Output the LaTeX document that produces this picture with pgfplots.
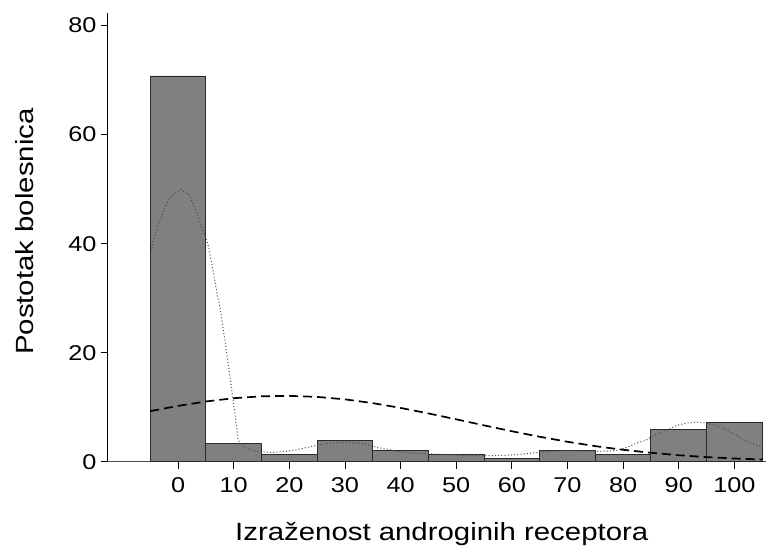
\documentclass[border=0pt]{standalone}
\usepackage{fontspec}
\setmainfont{Liberation Sans}[FakeStretch=1.18]
\usepackage{pgfplots}
\pgfplotsset{compat=1.18}
\definecolor{barfill}{HTML}{808080}
\definecolor{bardraw}{HTML}{2A2A2A}
\definecolor{dotcol}{HTML}{4A4A4A}
\begin{document}
\begin{tikzpicture}
\begin{axis}[
  scale only axis, width=658bp, height=449bp,
  xmin=-12.6, xmax=105.6, ymin=0, ymax=82.3,
  axis x line*=bottom, axis y line*=left,
  axis line style={-},
  x axis line style={black!70, line width=0.9bp},
  y axis line style={black, line width=0.9bp},
  tick align=outside, major tick length=7bp,
  tick style={black, line width=0.8bp},
  xtick={0,10,...,100}, ytick={0,20,...,80},
  minor tick num=0,
  /pgf/number format/assume math mode=true,
  tick label style={font=\fontsize{21.5}{23}\selectfont},
  xticklabel style={yshift=-5bp},
  yticklabel style={xshift=-1bp},
  label style={font=\fontsize{25}{29}\selectfont},
  xlabel={Izraženost androginih receptora},
  ylabel={Postotak bolesnica},
  xlabel style={at={(axis description cs:0.5076,-0.1759)}, anchor=base},
  ylabel style={at={(axis description cs:-0.1135,0.513)}, anchor=base, rotate=0},
]
\addplot[ybar interval, fill=barfill, draw=bardraw, line width=0.9bp] coordinates {
(-5,70.75) (5,3.37) (15,1.41) (25,3.98) (35,2.02) (45,1.28) (55,0.55) (65,2.02) (75,1.36) (85,5.94) (95,7.22) (105,7.22)
};
\addplot[dotcol, line width=1bp, dash pattern=on 1bp off 2.2bp] coordinates {
(-5,38.0) (-4.1,41.8) (-3.2,44.4) (-2.0,47.5) (-0.85,49.1) (0.5,49.9) (2.0,48.9) (3.3,45.8) (4.5,42.5) (5.4,39.8) (6.3,35.0) (7.1,30.3) (7.5,28.6) (8.4,22.4) (9.0,18.1) (9.6,13.5) (10.2,9.0) (10.8,4.0) (11.7,2.7) (13.5,2.07) (15.3,1.77) (17.1,1.71) (18.9,1.83) (21.3,2.2) (23.1,2.6) (24.9,3.0) (27.3,3.4) (30.3,3.55) (32.1,3.45) (34,3.2) (35.7,2.6) (38.1,2.2) (41.1,1.6) (44.7,1.47) (48.9,1.28) (53.1,1.1) (56.7,1.1) (59.8,1.22) (62.7,1.47) (64.5,1.7) (66.9,1.95) (69.8,2.05) (72.8,2.0) (75.8,1.89) (78.8,2.07) (80.6,2.6) (82.4,3.4) (84.2,4.0) (86.0,5.07) (87.8,5.74) (89.6,6.65) (91.4,7.09) (93.5,7.25) (95.0,7.09) (96.8,6.6) (98.6,5.87) (100.4,4.77) (102.2,3.7) (104.8,2.8)
};
\addplot[black, line width=1.7bp, dash pattern=on 9bp off 5bp] coordinates {
(-5,9.28) (0,10.24) (5,11.05) (10,11.65) (15,12.00) (20,12.08) (25,11.89) (30,11.44) (35,10.75) (40,9.87) (45,8.86) (50,7.78) (55,6.67) (60,5.59) (65,4.58) (70,3.66) (75,2.86) (80,2.19) (85,1.64) (90,1.19) (95,0.85) (100,0.59) (105,0.41)
};
\end{axis}
\path ([xshift=-108bp,yshift=-85bp]current axis.south west) rectangle ([yshift=13bp]current axis.north east);
\end{tikzpicture}
\end{document}
